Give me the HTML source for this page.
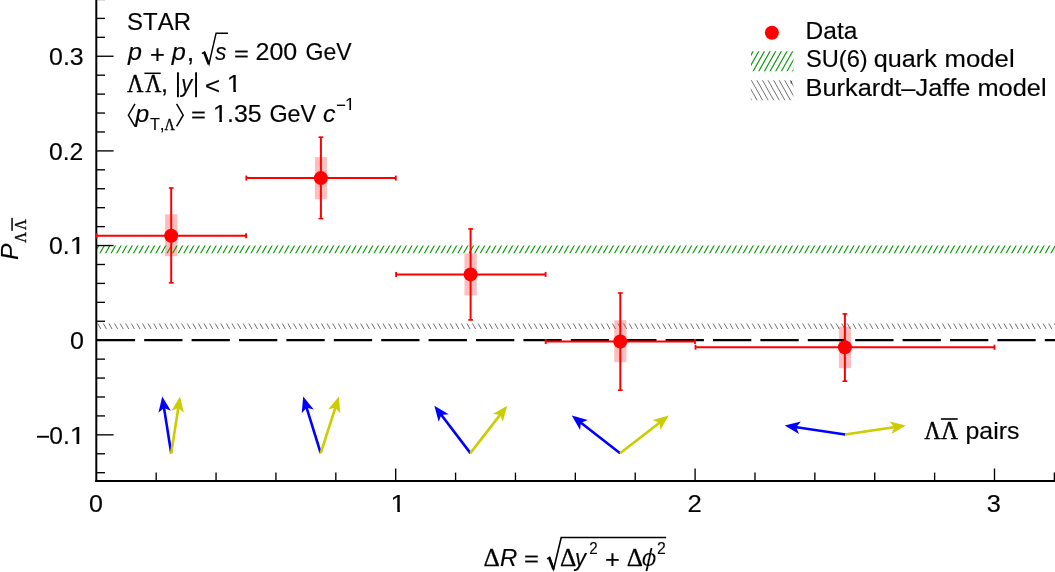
<!DOCTYPE html>
<html><head><meta charset="utf-8"><title>chart</title>
<style>
html,body{margin:0;padding:0;background:#fff;}
svg{display:block;}
text{fill:#000;font-kerning:none;}
</style></head><body>
<svg width="1055" height="572" viewBox="0 0 1055 572">
<rect width="1055" height="572" fill="#fff"/>
<defs><clipPath id="c1_24"><rect x="0" y="-24.00" width="24.00" height="21.457"/><rect x="5.918" y="-24.00" width="2.355" height="26.00"/></clipPath><clipPath id="c1_15_6"><rect x="0" y="-15.60" width="15.60" height="13.685"/><rect x="3.847" y="-15.60" width="1.531" height="17.60"/></clipPath></defs>
<rect x="165.10" y="214.30" width="12.20" height="41.90" fill="#ffbdbd"/>
<rect x="314.90" y="157.10" width="12.00" height="42.20" fill="#ffbdbd"/>
<rect x="464.50" y="253.40" width="12.20" height="42.00" fill="#ffbdbd"/>
<rect x="614.30" y="320.30" width="12.10" height="41.90" fill="#ffbdbd"/>
<rect x="838.90" y="326.60" width="12.10" height="41.60" fill="#ffbdbd"/>
<clipPath id="h1"><rect x="96.30" y="245.60" width="958.70" height="7.70"/></clipPath>
<path clip-path="url(#h1)" d="M82.55 254.30L88.04 244.60M88.15 254.30L93.63 244.60M93.74 254.30L99.23 244.60M99.33 254.30L104.82 244.60M104.93 254.30L110.42 244.60M110.52 254.30L116.01 244.60M116.12 254.30L121.60 244.60M121.71 254.30L127.20 244.60M127.30 254.30L132.79 244.60M132.90 254.30L138.39 244.60M138.49 254.30L143.98 244.60M144.09 254.30L149.57 244.60M149.68 254.30L155.17 244.60M155.27 254.30L160.76 244.60M160.87 254.30L166.36 244.60M166.46 254.30L171.95 244.60M172.06 254.30L177.54 244.60M177.65 254.30L183.14 244.60M183.24 254.30L188.73 244.60M188.84 254.30L194.33 244.60M194.43 254.30L199.92 244.60M200.03 254.30L205.51 244.60M205.62 254.30L211.11 244.60M211.21 254.30L216.70 244.60M216.81 254.30L222.30 244.60M222.40 254.30L227.89 244.60M228.00 254.30L233.48 244.60M233.59 254.30L239.08 244.60M239.18 254.30L244.67 244.60M244.78 254.30L250.27 244.60M250.37 254.30L255.86 244.60M255.97 254.30L261.45 244.60M261.56 254.30L267.05 244.60M267.15 254.30L272.64 244.60M272.75 254.30L278.24 244.60M278.34 254.30L283.83 244.60M283.94 254.30L289.42 244.60M289.53 254.30L295.02 244.60M295.12 254.30L300.61 244.60M300.72 254.30L306.21 244.60M306.31 254.30L311.80 244.60M311.91 254.30L317.39 244.60M317.50 254.30L322.99 244.60M323.09 254.30L328.58 244.60M328.69 254.30L334.18 244.60M334.28 254.30L339.77 244.60M339.88 254.30L345.36 244.60M345.47 254.30L350.96 244.60M351.06 254.30L356.55 244.60M356.66 254.30L362.15 244.60M362.25 254.30L367.74 244.60M367.85 254.30L373.33 244.60M373.44 254.30L378.93 244.60M379.03 254.30L384.52 244.60M384.63 254.30L390.12 244.60M390.22 254.30L395.71 244.60M395.82 254.30L401.30 244.60M401.41 254.30L406.90 244.60M407.00 254.30L412.49 244.60M412.60 254.30L418.09 244.60M418.19 254.30L423.68 244.60M423.79 254.30L429.27 244.60M429.38 254.30L434.87 244.60M434.97 254.30L440.46 244.60M440.57 254.30L446.06 244.60M446.16 254.30L451.65 244.60M451.76 254.30L457.24 244.60M457.35 254.30L462.84 244.60M462.94 254.30L468.43 244.60M468.54 254.30L474.03 244.60M474.13 254.30L479.62 244.60M479.73 254.30L485.21 244.60M485.32 254.30L490.81 244.60M490.91 254.30L496.40 244.60M496.51 254.30L502.00 244.60M502.10 254.30L507.59 244.60M507.70 254.30L513.18 244.60M513.29 254.30L518.78 244.60M518.88 254.30L524.37 244.60M524.48 254.30L529.97 244.60M530.07 254.30L535.56 244.60M535.67 254.30L541.15 244.60M541.26 254.30L546.75 244.60M546.85 254.30L552.34 244.60M552.45 254.30L557.94 244.60M558.04 254.30L563.53 244.60M563.64 254.30L569.12 244.60M569.23 254.30L574.72 244.60M574.82 254.30L580.31 244.60M580.42 254.30L585.91 244.60M586.01 254.30L591.50 244.60M591.61 254.30L597.09 244.60M597.20 254.30L602.69 244.60M602.79 254.30L608.28 244.60M608.39 254.30L613.88 244.60M613.98 254.30L619.47 244.60M619.58 254.30L625.06 244.60M625.17 254.30L630.66 244.60M630.76 254.30L636.25 244.60M636.36 254.30L641.85 244.60M641.95 254.30L647.44 244.60M647.55 254.30L653.03 244.60M653.14 254.30L658.63 244.60M658.73 254.30L664.22 244.60M664.33 254.30L669.82 244.60M669.92 254.30L675.41 244.60M675.52 254.30L681.00 244.60M681.11 254.30L686.60 244.60M686.70 254.30L692.19 244.60M692.30 254.30L697.79 244.60M697.89 254.30L703.38 244.60M703.49 254.30L708.97 244.60M709.08 254.30L714.57 244.60M714.67 254.30L720.16 244.60M720.27 254.30L725.76 244.60M725.86 254.30L731.35 244.60M731.46 254.30L736.94 244.60M737.05 254.30L742.54 244.60M742.64 254.30L748.13 244.60M748.24 254.30L753.73 244.60M753.83 254.30L759.32 244.60M759.43 254.30L764.91 244.60M765.02 254.30L770.51 244.60M770.61 254.30L776.10 244.60M776.21 254.30L781.70 244.60M781.80 254.30L787.29 244.60M787.40 254.30L792.88 244.60M792.99 254.30L798.48 244.60M798.58 254.30L804.07 244.60M804.18 254.30L809.67 244.60M809.77 254.30L815.26 244.60M815.37 254.30L820.85 244.60M820.96 254.30L826.45 244.60M826.55 254.30L832.04 244.60M832.15 254.30L837.64 244.60M837.74 254.30L843.23 244.60M843.34 254.30L848.82 244.60M848.93 254.30L854.42 244.60M854.52 254.30L860.01 244.60M860.12 254.30L865.61 244.60M865.71 254.30L871.20 244.60M871.31 254.30L876.79 244.60M876.90 254.30L882.39 244.60M882.49 254.30L887.98 244.60M888.09 254.30L893.58 244.60M893.68 254.30L899.17 244.60M899.28 254.30L904.76 244.60M904.87 254.30L910.36 244.60M910.46 254.30L915.95 244.60M916.06 254.30L921.55 244.60M921.65 254.30L927.14 244.60M927.25 254.30L932.73 244.60M932.84 254.30L938.33 244.60M938.43 254.30L943.92 244.60M944.03 254.30L949.52 244.60M949.62 254.30L955.11 244.60M955.22 254.30L960.70 244.60M960.81 254.30L966.30 244.60M966.40 254.30L971.89 244.60M972.00 254.30L977.49 244.60M977.59 254.30L983.08 244.60M983.19 254.30L988.67 244.60M988.78 254.30L994.27 244.60M994.37 254.30L999.86 244.60M999.97 254.30L1005.46 244.60M1005.56 254.30L1011.05 244.60M1011.16 254.30L1016.64 244.60M1016.75 254.30L1022.24 244.60M1022.34 254.30L1027.83 244.60M1027.94 254.30L1033.43 244.60M1033.53 254.30L1039.02 244.60M1039.13 254.30L1044.61 244.60M1044.72 254.30L1050.21 244.60M1050.31 254.30L1055.80 244.60M1055.91 254.30L1061.40 244.60M1061.50 254.30L1066.99 244.60" stroke="#0a9c0a" stroke-width="1.15" fill="none"/>
<clipPath id="h2"><rect x="96.30" y="323.60" width="958.70" height="5.50"/></clipPath>
<path clip-path="url(#h2)" d="M86.05 322.60L90.29 330.10M91.64 322.60L95.88 330.10M97.23 322.60L101.48 330.10M102.83 322.60L107.07 330.10M108.42 322.60L112.67 330.10M114.02 322.60L118.26 330.10M119.61 322.60L123.85 330.10M125.20 322.60L129.45 330.10M130.80 322.60L135.04 330.10M136.39 322.60L140.64 330.10M141.99 322.60L146.23 330.10M147.58 322.60L151.82 330.10M153.17 322.60L157.42 330.10M158.77 322.60L163.01 330.10M164.36 322.60L168.61 330.10M169.96 322.60L174.20 330.10M175.55 322.60L179.79 330.10M181.14 322.60L185.39 330.10M186.74 322.60L190.98 330.10M192.33 322.60L196.58 330.10M197.93 322.60L202.17 330.10M203.52 322.60L207.76 330.10M209.11 322.60L213.36 330.10M214.71 322.60L218.95 330.10M220.30 322.60L224.55 330.10M225.90 322.60L230.14 330.10M231.49 322.60L235.73 330.10M237.08 322.60L241.33 330.10M242.68 322.60L246.92 330.10M248.27 322.60L252.52 330.10M253.87 322.60L258.11 330.10M259.46 322.60L263.70 330.10M265.05 322.60L269.30 330.10M270.65 322.60L274.89 330.10M276.24 322.60L280.49 330.10M281.84 322.60L286.08 330.10M287.43 322.60L291.67 330.10M293.02 322.60L297.27 330.10M298.62 322.60L302.86 330.10M304.21 322.60L308.46 330.10M309.81 322.60L314.05 330.10M315.40 322.60L319.64 330.10M320.99 322.60L325.24 330.10M326.59 322.60L330.83 330.10M332.18 322.60L336.43 330.10M337.78 322.60L342.02 330.10M343.37 322.60L347.61 330.10M348.96 322.60L353.21 330.10M354.56 322.60L358.80 330.10M360.15 322.60L364.40 330.10M365.75 322.60L369.99 330.10M371.34 322.60L375.58 330.10M376.93 322.60L381.18 330.10M382.53 322.60L386.77 330.10M388.12 322.60L392.37 330.10M393.72 322.60L397.96 330.10M399.31 322.60L403.55 330.10M404.90 322.60L409.15 330.10M410.50 322.60L414.74 330.10M416.09 322.60L420.34 330.10M421.69 322.60L425.93 330.10M427.28 322.60L431.52 330.10M432.87 322.60L437.12 330.10M438.47 322.60L442.71 330.10M444.06 322.60L448.31 330.10M449.66 322.60L453.90 330.10M455.25 322.60L459.49 330.10M460.84 322.60L465.09 330.10M466.44 322.60L470.68 330.10M472.03 322.60L476.28 330.10M477.63 322.60L481.87 330.10M483.22 322.60L487.46 330.10M488.81 322.60L493.06 330.10M494.41 322.60L498.65 330.10M500.00 322.60L504.25 330.10M505.60 322.60L509.84 330.10M511.19 322.60L515.43 330.10M516.78 322.60L521.03 330.10M522.38 322.60L526.62 330.10M527.97 322.60L532.22 330.10M533.57 322.60L537.81 330.10M539.16 322.60L543.40 330.10M544.75 322.60L549.00 330.10M550.35 322.60L554.59 330.10M555.94 322.60L560.19 330.10M561.54 322.60L565.78 330.10M567.13 322.60L571.37 330.10M572.72 322.60L576.97 330.10M578.32 322.60L582.56 330.10M583.91 322.60L588.16 330.10M589.51 322.60L593.75 330.10M595.10 322.60L599.34 330.10M600.69 322.60L604.94 330.10M606.29 322.60L610.53 330.10M611.88 322.60L616.13 330.10M617.48 322.60L621.72 330.10M623.07 322.60L627.31 330.10M628.66 322.60L632.91 330.10M634.26 322.60L638.50 330.10M639.85 322.60L644.10 330.10M645.45 322.60L649.69 330.10M651.04 322.60L655.28 330.10M656.63 322.60L660.88 330.10M662.23 322.60L666.47 330.10M667.82 322.60L672.07 330.10M673.42 322.60L677.66 330.10M679.01 322.60L683.25 330.10M684.60 322.60L688.85 330.10M690.20 322.60L694.44 330.10M695.79 322.60L700.04 330.10M701.39 322.60L705.63 330.10M706.98 322.60L711.22 330.10M712.57 322.60L716.82 330.10M718.17 322.60L722.41 330.10M723.76 322.60L728.01 330.10M729.36 322.60L733.60 330.10M734.95 322.60L739.19 330.10M740.54 322.60L744.79 330.10M746.14 322.60L750.38 330.10M751.73 322.60L755.98 330.10M757.33 322.60L761.57 330.10M762.92 322.60L767.16 330.10M768.51 322.60L772.76 330.10M774.11 322.60L778.35 330.10M779.70 322.60L783.95 330.10M785.30 322.60L789.54 330.10M790.89 322.60L795.13 330.10M796.48 322.60L800.73 330.10M802.08 322.60L806.32 330.10M807.67 322.60L811.92 330.10M813.27 322.60L817.51 330.10M818.86 322.60L823.10 330.10M824.45 322.60L828.70 330.10M830.05 322.60L834.29 330.10M835.64 322.60L839.89 330.10M841.24 322.60L845.48 330.10M846.83 322.60L851.07 330.10M852.42 322.60L856.67 330.10M858.02 322.60L862.26 330.10M863.61 322.60L867.86 330.10M869.21 322.60L873.45 330.10M874.80 322.60L879.04 330.10M880.39 322.60L884.64 330.10M885.99 322.60L890.23 330.10M891.58 322.60L895.83 330.10M897.18 322.60L901.42 330.10M902.77 322.60L907.01 330.10M908.36 322.60L912.61 330.10M913.96 322.60L918.20 330.10M919.55 322.60L923.80 330.10M925.15 322.60L929.39 330.10M930.74 322.60L934.98 330.10M936.33 322.60L940.58 330.10M941.93 322.60L946.17 330.10M947.52 322.60L951.77 330.10M953.12 322.60L957.36 330.10M958.71 322.60L962.95 330.10M964.30 322.60L968.55 330.10M969.90 322.60L974.14 330.10M975.49 322.60L979.74 330.10M981.09 322.60L985.33 330.10M986.68 322.60L990.92 330.10M992.27 322.60L996.52 330.10M997.87 322.60L1002.11 330.10M1003.46 322.60L1007.71 330.10M1009.06 322.60L1013.30 330.10M1014.65 322.60L1018.89 330.10M1020.24 322.60L1024.49 330.10M1025.84 322.60L1030.08 330.10M1031.43 322.60L1035.68 330.10M1037.03 322.60L1041.27 330.10M1042.62 322.60L1046.86 330.10M1048.21 322.60L1052.46 330.10M1053.81 322.60L1058.05 330.10M1059.40 322.60L1063.65 330.10" stroke="#6a6a6a" stroke-width="0.95" fill="none"/>
<clipPath id="h3"><rect x="751.00" y="51.20" width="42.40" height="20.10"/></clipPath>
<path clip-path="url(#h3)" d="M729.91 72.30L742.42 50.20M735.56 72.30L748.07 50.20M741.21 72.30L753.72 50.20M746.86 72.30L759.37 50.20M752.51 72.30L765.02 50.20M758.16 72.30L770.67 50.20M763.81 72.30L776.32 50.20M769.46 72.30L781.97 50.20M775.11 72.30L787.62 50.20M780.76 72.30L793.27 50.20M786.41 72.30L798.92 50.20M792.06 72.30L804.57 50.20M797.71 72.30L810.22 50.20M803.36 72.30L815.87 50.20M809.01 72.30L821.52 50.20" stroke="#0a9c0a" stroke-width="1.15" fill="none"/>
<clipPath id="h4"><rect x="750.80" y="80.20" width="42.60" height="20.10"/></clipPath>
<path clip-path="url(#h4)" d="M728.49 79.20L741.00 101.30M734.05 79.20L746.56 101.30M739.61 79.20L752.12 101.30M745.17 79.20L757.68 101.30M750.73 79.20L763.24 101.30M756.29 79.20L768.80 101.30M761.85 79.20L774.36 101.30M767.41 79.20L779.92 101.30M772.97 79.20L785.48 101.30M778.53 79.20L791.04 101.30M784.09 79.20L796.60 101.30M789.65 79.20L802.16 101.30M795.21 79.20L807.72 101.30M800.77 79.20L813.28 101.30M806.33 79.20L818.84 101.30" stroke="#6a6a6a" stroke-width="0.95" fill="none"/>
<rect x="790.60" y="80.90" width="1.30" height="2.60" fill="#555"/>
<line x1="96.8" y1="340.1" x2="1060" y2="340.1" stroke="#000" stroke-width="2.1" stroke-dasharray="38.3 9.1"/>
<rect x="95.30" y="0.00" width="2.00" height="482.00" fill="#000"/>
<rect x="95.30" y="480.00" width="959.70" height="2.00" fill="#000"/>
<line x1="97.00" y1="472.71" x2="105.00" y2="472.71" stroke="#000" stroke-width="1.35" />
<line x1="97.00" y1="453.78" x2="105.00" y2="453.78" stroke="#000" stroke-width="1.35" />
<line x1="97.00" y1="434.85" x2="113.60" y2="434.85" stroke="#000" stroke-width="1.35" />
<line x1="97.00" y1="415.92" x2="105.00" y2="415.92" stroke="#000" stroke-width="1.35" />
<line x1="97.00" y1="396.99" x2="105.00" y2="396.99" stroke="#000" stroke-width="1.35" />
<line x1="97.00" y1="378.06" x2="105.00" y2="378.06" stroke="#000" stroke-width="1.35" />
<line x1="97.00" y1="359.13" x2="105.00" y2="359.13" stroke="#000" stroke-width="1.35" />
<line x1="97.00" y1="340.20" x2="113.60" y2="340.20" stroke="#000" stroke-width="1.35" />
<line x1="97.00" y1="321.27" x2="105.00" y2="321.27" stroke="#000" stroke-width="1.35" />
<line x1="97.00" y1="302.34" x2="105.00" y2="302.34" stroke="#000" stroke-width="1.35" />
<line x1="97.00" y1="283.41" x2="105.00" y2="283.41" stroke="#000" stroke-width="1.35" />
<line x1="97.00" y1="264.48" x2="105.00" y2="264.48" stroke="#000" stroke-width="1.35" />
<line x1="97.00" y1="245.55" x2="113.60" y2="245.55" stroke="#000" stroke-width="1.35" />
<line x1="97.00" y1="226.62" x2="105.00" y2="226.62" stroke="#000" stroke-width="1.35" />
<line x1="97.00" y1="207.69" x2="105.00" y2="207.69" stroke="#000" stroke-width="1.35" />
<line x1="97.00" y1="188.76" x2="105.00" y2="188.76" stroke="#000" stroke-width="1.35" />
<line x1="97.00" y1="169.83" x2="105.00" y2="169.83" stroke="#000" stroke-width="1.35" />
<line x1="97.00" y1="150.90" x2="113.60" y2="150.90" stroke="#000" stroke-width="1.35" />
<line x1="97.00" y1="131.97" x2="105.00" y2="131.97" stroke="#000" stroke-width="1.35" />
<line x1="97.00" y1="113.04" x2="105.00" y2="113.04" stroke="#000" stroke-width="1.35" />
<line x1="97.00" y1="94.11" x2="105.00" y2="94.11" stroke="#000" stroke-width="1.35" />
<line x1="97.00" y1="75.18" x2="105.00" y2="75.18" stroke="#000" stroke-width="1.35" />
<line x1="97.00" y1="56.25" x2="113.60" y2="56.25" stroke="#000" stroke-width="1.35" />
<line x1="97.00" y1="37.32" x2="105.00" y2="37.32" stroke="#000" stroke-width="1.35" />
<line x1="97.00" y1="18.39" x2="105.00" y2="18.39" stroke="#000" stroke-width="1.35" />
<line x1="97.00" y1="-0.54" x2="105.00" y2="-0.54" stroke="#000" stroke-width="1.35" />
<line x1="156.18" y1="480.50" x2="156.18" y2="472.60" stroke="#000" stroke-width="1.35" />
<line x1="216.06" y1="480.50" x2="216.06" y2="472.60" stroke="#000" stroke-width="1.35" />
<line x1="275.94" y1="480.50" x2="275.94" y2="472.60" stroke="#000" stroke-width="1.35" />
<line x1="335.82" y1="480.50" x2="335.82" y2="472.60" stroke="#000" stroke-width="1.35" />
<line x1="395.70" y1="480.50" x2="395.70" y2="468.50" stroke="#000" stroke-width="1.35" />
<line x1="455.58" y1="480.50" x2="455.58" y2="472.60" stroke="#000" stroke-width="1.35" />
<line x1="515.46" y1="480.50" x2="515.46" y2="472.60" stroke="#000" stroke-width="1.35" />
<line x1="575.34" y1="480.50" x2="575.34" y2="472.60" stroke="#000" stroke-width="1.35" />
<line x1="635.22" y1="480.50" x2="635.22" y2="472.60" stroke="#000" stroke-width="1.35" />
<line x1="695.10" y1="480.50" x2="695.10" y2="468.50" stroke="#000" stroke-width="1.35" />
<line x1="754.98" y1="480.50" x2="754.98" y2="472.60" stroke="#000" stroke-width="1.35" />
<line x1="814.86" y1="480.50" x2="814.86" y2="472.60" stroke="#000" stroke-width="1.35" />
<line x1="874.74" y1="480.50" x2="874.74" y2="472.60" stroke="#000" stroke-width="1.35" />
<line x1="934.62" y1="480.50" x2="934.62" y2="472.60" stroke="#000" stroke-width="1.35" />
<line x1="994.50" y1="480.50" x2="994.50" y2="468.50" stroke="#000" stroke-width="1.35" />
<line x1="1054.38" y1="480.50" x2="1054.38" y2="472.60" stroke="#000" stroke-width="1.35" />
<line x1="96.30" y1="235.70" x2="246.40" y2="235.70" stroke="#ff0000" stroke-width="2.0" />
<line x1="171.20" y1="187.60" x2="171.20" y2="283.20" stroke="#ff0000" stroke-width="2.0" />
<line x1="96.60" y1="233.20" x2="96.60" y2="238.20" stroke="#ff0000" stroke-width="1.8" />
<line x1="246.10" y1="233.20" x2="246.10" y2="238.20" stroke="#ff0000" stroke-width="1.8" />
<line x1="168.80" y1="188.00" x2="173.60" y2="188.00" stroke="#ff0000" stroke-width="1.6" />
<line x1="168.80" y1="282.80" x2="173.60" y2="282.80" stroke="#ff0000" stroke-width="1.6" />
<circle cx="171.20" cy="235.70" r="7.0" fill="#ff0000"/>
<line x1="246.00" y1="178.10" x2="396.10" y2="178.10" stroke="#ff0000" stroke-width="2.0" />
<line x1="320.90" y1="136.80" x2="320.90" y2="219.00" stroke="#ff0000" stroke-width="2.0" />
<line x1="246.30" y1="175.60" x2="246.30" y2="180.60" stroke="#ff0000" stroke-width="1.8" />
<line x1="395.80" y1="175.60" x2="395.80" y2="180.60" stroke="#ff0000" stroke-width="1.8" />
<line x1="318.50" y1="137.20" x2="323.30" y2="137.20" stroke="#ff0000" stroke-width="1.6" />
<line x1="318.50" y1="218.60" x2="323.30" y2="218.60" stroke="#ff0000" stroke-width="1.6" />
<circle cx="320.90" cy="178.10" r="7.0" fill="#ff0000"/>
<line x1="395.80" y1="274.40" x2="545.90" y2="274.40" stroke="#ff0000" stroke-width="2.0" />
<line x1="470.60" y1="228.50" x2="470.60" y2="320.30" stroke="#ff0000" stroke-width="2.0" />
<line x1="396.10" y1="271.90" x2="396.10" y2="276.90" stroke="#ff0000" stroke-width="1.8" />
<line x1="545.60" y1="271.90" x2="545.60" y2="276.90" stroke="#ff0000" stroke-width="1.8" />
<line x1="468.20" y1="228.90" x2="473.00" y2="228.90" stroke="#ff0000" stroke-width="1.6" />
<line x1="468.20" y1="319.90" x2="473.00" y2="319.90" stroke="#ff0000" stroke-width="1.6" />
<circle cx="470.60" cy="274.40" r="7.0" fill="#ff0000"/>
<line x1="545.40" y1="341.50" x2="695.30" y2="341.50" stroke="#ff0000" stroke-width="2.0" />
<line x1="620.30" y1="292.60" x2="620.30" y2="390.60" stroke="#ff0000" stroke-width="2.0" />
<line x1="545.70" y1="339.00" x2="545.70" y2="344.00" stroke="#ff0000" stroke-width="1.8" />
<line x1="695.00" y1="339.00" x2="695.00" y2="344.00" stroke="#ff0000" stroke-width="1.8" />
<line x1="617.90" y1="293.00" x2="622.70" y2="293.00" stroke="#ff0000" stroke-width="1.6" />
<line x1="617.90" y1="390.20" x2="622.70" y2="390.20" stroke="#ff0000" stroke-width="1.6" />
<circle cx="620.30" cy="341.50" r="7.0" fill="#ff0000"/>
<line x1="695.20" y1="347.20" x2="994.80" y2="347.20" stroke="#ff0000" stroke-width="2.0" />
<line x1="844.90" y1="313.50" x2="844.90" y2="381.60" stroke="#ff0000" stroke-width="2.0" />
<line x1="695.50" y1="344.70" x2="695.50" y2="349.70" stroke="#ff0000" stroke-width="1.8" />
<line x1="994.50" y1="344.70" x2="994.50" y2="349.70" stroke="#ff0000" stroke-width="1.8" />
<line x1="842.50" y1="313.90" x2="847.30" y2="313.90" stroke="#ff0000" stroke-width="1.6" />
<line x1="842.50" y1="381.20" x2="847.30" y2="381.20" stroke="#ff0000" stroke-width="1.6" />
<circle cx="844.90" cy="347.20" r="7.0" fill="#ff0000"/>
<circle cx="771.9" cy="32.7" r="7.0" fill="#ff0000"/>
<line x1="171.20" y1="453.20" x2="163.86" y2="406.88" stroke="#0000ff" stroke-width="2.6"/><polygon points="162.24,396.60 170.87,410.83 164.05,408.06 158.42,412.80" fill="#0000ff"/>
<line x1="171.20" y1="453.20" x2="178.45" y2="406.88" stroke="#cccc00" stroke-width="2.6"/><polygon points="180.06,396.60 183.90,412.79 178.27,408.07 171.46,410.84" fill="#cccc00"/>
<line x1="320.70" y1="453.20" x2="306.26" y2="406.55" stroke="#0000ff" stroke-width="2.6"/><polygon points="303.18,396.62 313.75,409.47 306.61,407.70 301.72,413.19" fill="#0000ff"/>
<line x1="320.70" y1="453.20" x2="335.73" y2="406.52" stroke="#cccc00" stroke-width="2.6"/><polygon points="338.92,396.62 340.20,413.21 335.37,407.66 328.20,409.35" fill="#cccc00"/>
<line x1="470.40" y1="453.10" x2="440.65" y2="413.96" stroke="#0000ff" stroke-width="2.6"/><polygon points="434.36,405.68 448.69,414.13 441.38,414.92 438.66,421.75" fill="#0000ff"/>
<line x1="470.40" y1="453.10" x2="500.86" y2="413.90" stroke="#cccc00" stroke-width="2.6"/><polygon points="507.25,405.68 502.77,421.71 500.13,414.84 492.82,413.98" fill="#cccc00"/>
<line x1="620.10" y1="453.20" x2="579.99" y2="421.95" stroke="#0000ff" stroke-width="2.6"/><polygon points="571.78,415.55 587.80,420.05 580.93,422.68 580.06,429.99" fill="#0000ff"/>
<line x1="620.10" y1="453.20" x2="660.49" y2="421.92" stroke="#cccc00" stroke-width="2.6"/><polygon points="668.72,415.56 660.40,429.96 659.54,422.66 652.68,420.00" fill="#cccc00"/>
<line x1="845.10" y1="434.50" x2="794.99" y2="426.98" stroke="#0000ff" stroke-width="2.6"/><polygon points="784.70,425.44 800.87,421.49 796.18,427.16 799.00,433.96" fill="#0000ff"/>
<line x1="845.10" y1="434.50" x2="895.51" y2="426.98" stroke="#cccc00" stroke-width="2.6"/><polygon points="905.80,425.44 891.49,433.95 894.32,427.15 889.63,421.48" fill="#cccc00"/>
<rect x="37.00" y="435.80" width="12.00" height="1.90" fill="#000"/>
<path d="M202.0 53.5L204.5 52.1L209.0 64.0L216.1 33.2L228.0 33.2" fill="none" stroke="#000" stroke-width="1.45" stroke-linejoin="miter"/>
<path d="M204.2 52.3L208.8 64.3" fill="none" stroke="#000" stroke-width="2.5"/>
<rect x="144.40" y="72.55" width="16.30" height="1.50" fill="#000"/>
<rect x="940.90" y="418.20" width="16.80" height="1.60" fill="#000"/>
<rect x="177.00" y="72.30" width="1.90" height="24.90" fill="#000"/>
<rect x="195.10" y="72.30" width="1.90" height="24.90" fill="#000"/>
<path d="M135.0 103.9L128.4 115.15L135.0 126.4" fill="none" stroke="#000" stroke-width="1.5"/>
<path d="M176.6 103.9L183.2 115.15L176.6 126.4" fill="none" stroke="#000" stroke-width="1.5"/>
<rect x="336.90" y="104.60" width="8.30" height="1.40" fill="#000"/>
<path d="M547.0 558.9L549.6 557.5L553.7 569.0L561.2 537.5L666.1 537.5" fill="none" stroke="#000" stroke-width="1.6" stroke-linejoin="miter"/>
<path d="M549.2 557.7L553.5 569.4" fill="none" stroke="#000" stroke-width="2.6"/>
<rect x="11.30" y="217.90" width="1.50" height="12.90" fill="#000"/>
<g style="opacity:0.999">
<text transform="translate(49.03,64.75) scale(1.0392,1.0000)" style="font-family:'Liberation Sans', sans-serif;font-size:24px;stroke:#000;stroke-width:0.16px;">0.3</text>
<text transform="translate(49.04,159.50) scale(1.0282,1.0000)" style="font-family:'Liberation Sans', sans-serif;font-size:24px;stroke:#000;stroke-width:0.16px;">0.2</text>
<text transform="translate(49.03,254.20) scale(1.0363,1.0000)" style="font-family:'Liberation Sans', sans-serif;font-size:24px;stroke:#000;stroke-width:0.16px;">0.</text>
<text transform="translate(69.75,254.20) scale(1.1458,1.0000)" style="font-family:'Liberation Sans', sans-serif;font-size:24px;stroke:#000;stroke-width:0.16px;" clip-path="url(#c1_24)">1</text>
<text transform="translate(70.02,349.00) scale(1.0460,1.0000)" style="font-family:'Liberation Sans', sans-serif;font-size:24px;stroke:#000;stroke-width:0.16px;">0</text>
<text transform="translate(49.24,444.00) scale(1.0245,1.0000)" style="font-family:'Liberation Sans', sans-serif;font-size:24px;stroke:#000;stroke-width:0.16px;">0.</text>
<text transform="translate(69.75,444.00) scale(1.1458,1.0000)" style="font-family:'Liberation Sans', sans-serif;font-size:24px;stroke:#000;stroke-width:0.16px;" clip-path="url(#c1_24)">1</text>
<text transform="translate(88.97,511.80) scale(1.0416,1.0000)" style="font-family:'Liberation Sans', sans-serif;font-size:24px;stroke:#000;stroke-width:0.16px;">0</text>
<text transform="translate(390.59,511.80) scale(1.1287,1.0000)" style="font-family:'Liberation Sans', sans-serif;font-size:24px;stroke:#000;stroke-width:0.16px;" clip-path="url(#c1_24)">1</text>
<text transform="translate(687.41,511.80) scale(1.0701,1.0000)" style="font-family:'Liberation Sans', sans-serif;font-size:24px;stroke:#000;stroke-width:0.16px;">2</text>
<text transform="translate(986.64,511.80) scale(1.0546,1.0000)" style="font-family:'Liberation Sans', sans-serif;font-size:24px;stroke:#000;stroke-width:0.16px;">3</text>
<text transform="translate(127.11,29.60) scale(0.9983,1.0000)" style="font-family:'Liberation Sans', sans-serif;font-size:24px;stroke:#000;stroke-width:0.16px;">STAR</text>
<text transform="translate(127.97,60.45) scale(1.0439,1.0000)" style="font-family:'Liberation Sans', sans-serif;font-size:24px;font-style:italic;stroke:#000;stroke-width:0.16px;">p</text>
<text transform="translate(149.95,62.79) scale(1.0635,1.0390)" style="font-family:'Liberation Sans', sans-serif;font-size:24px;stroke:#000;stroke-width:0.16px;">+</text>
<text transform="translate(171.83,60.45) scale(1.0553,1.0000)" style="font-family:'Liberation Sans', sans-serif;font-size:24px;font-style:italic;stroke:#000;stroke-width:0.16px;">p</text>
<text transform="translate(186.77,60.97) scale(1.1200,1.1177)" style="font-family:'Liberation Sans', sans-serif;font-size:24px;stroke:#000;stroke-width:0.16px;">,</text>
<text transform="translate(215.15,60.45) scale(0.9258,1.0000)" style="font-family:'Liberation Sans', sans-serif;font-size:24px;font-style:italic;stroke:#000;stroke-width:0.16px;">s</text>
<text transform="translate(233.95,60.78) scale(1.0635,0.8145)" style="font-family:'Liberation Sans', sans-serif;font-size:24px;stroke:#000;stroke-width:0.16px;">=</text>
<text transform="translate(255.54,60.45) scale(1.0423,1.0000)" style="font-family:'Liberation Sans', sans-serif;font-size:24px;stroke:#000;stroke-width:0.16px;">200</text>
<text transform="translate(305.54,60.45) scale(0.9612,1.0000)" style="font-family:'Liberation Sans', sans-serif;font-size:24px;stroke:#000;stroke-width:0.16px;">GeV</text>
<text transform="translate(127.18,91.60) scale(0.9278,1.0225)" style="font-family:'Liberation Serif', serif;font-size:24px;stroke:#000;stroke-width:0.55px;">&#923;</text>
<text transform="translate(145.39,91.60) scale(0.9101,1.0225)" style="font-family:'Liberation Serif', serif;font-size:24px;stroke:#000;stroke-width:0.55px;">&#923;</text>
<text transform="translate(160.67,91.62) scale(1.1200,1.0999)" style="font-family:'Liberation Sans', sans-serif;font-size:24px;stroke:#000;stroke-width:0.16px;">,</text>
<text transform="translate(181.24,91.80) scale(0.9131,1.0000)" style="font-family:'Liberation Sans', sans-serif;font-size:24px;font-style:italic;stroke:#000;stroke-width:0.16px;">y</text>
<text transform="translate(205.02,93.64) scale(1.0806,1.0174)" style="font-family:'Liberation Sans', sans-serif;font-size:24px;stroke:#000;stroke-width:0.16px;">&lt;</text>
<text transform="translate(226.87,91.80) scale(1.0945,1.0000)" style="font-family:'Liberation Sans', sans-serif;font-size:24px;stroke:#000;stroke-width:0.16px;" clip-path="url(#c1_24)">1</text>
<text transform="translate(135.13,121.60) scale(1.0477,1.0000)" style="font-family:'Liberation Sans', sans-serif;font-size:24px;font-style:italic;stroke:#000;stroke-width:0.16px;">p</text>
<text transform="translate(149.93,129.80) scale(1.0430,1.0000)" style="font-family:'Liberation Sans', sans-serif;font-size:15.6px;stroke:#000;stroke-width:0.11199999999999999px;">T</text>
<text transform="translate(159.74,129.77) scale(1.1103,1.1190)" style="font-family:'Liberation Sans', sans-serif;font-size:15.6px;stroke:#000;stroke-width:0.11199999999999999px;">,</text>
<text transform="translate(164.56,129.60) scale(0.9092,1.0244)" style="font-family:'Liberation Serif', serif;font-size:15.6px;stroke:#000;stroke-width:0.385px;">&#923;</text>
<text transform="translate(191.05,121.98) scale(1.0635,0.8145)" style="font-family:'Liberation Sans', sans-serif;font-size:24px;stroke:#000;stroke-width:0.16px;">=</text>
<text transform="translate(212.73,121.60) scale(1.1116,1.0000)" style="font-family:'Liberation Sans', sans-serif;font-size:24px;stroke:#000;stroke-width:0.16px;" clip-path="url(#c1_24)">1</text>
<text transform="translate(227.02,121.60) scale(1.0410,1.0000)" style="font-family:'Liberation Sans', sans-serif;font-size:24px;stroke:#000;stroke-width:0.16px;">.35</text>
<text transform="translate(269.42,121.60) scale(0.9741,1.0000)" style="font-family:'Liberation Sans', sans-serif;font-size:24px;stroke:#000;stroke-width:0.16px;">GeV</text>
<text transform="translate(322.88,121.60) scale(1.0415,1.0000)" style="font-family:'Liberation Sans', sans-serif;font-size:24px;font-style:italic;stroke:#000;stroke-width:0.16px;">c</text>
<text transform="translate(344.90,109.70) scale(1.1313,1.0000)" style="font-family:'Liberation Sans', sans-serif;font-size:15.6px;stroke:#000;stroke-width:0.11199999999999999px;" clip-path="url(#c1_15_6)">1</text>
<text transform="translate(805.59,38.50) scale(1.0220,1.0000)" style="font-family:'Liberation Sans', sans-serif;font-size:24px;stroke:#000;stroke-width:0.16px;">Data</text>
<text transform="translate(805.93,67.20) scale(0.9851,1.0000)" style="font-family:'Liberation Sans', sans-serif;font-size:24px;stroke:#000;stroke-width:0.16px;">SU(6)</text>
<text transform="translate(873.84,67.20) scale(1.0497,1.0000)" style="font-family:'Liberation Sans', sans-serif;font-size:24px;stroke:#000;stroke-width:0.16px;">quark</text>
<text transform="translate(944.59,67.20) scale(1.0713,1.0000)" style="font-family:'Liberation Sans', sans-serif;font-size:24px;stroke:#000;stroke-width:0.16px;">model</text>
<text transform="translate(805.52,96.30) scale(1.0568,1.0000)" style="font-family:'Liberation Sans', sans-serif;font-size:24px;stroke:#000;stroke-width:0.16px;">Burkardt&#8211;Jaffe model</text>
<text transform="translate(924.38,438.50) scale(0.9278,1.0162)" style="font-family:'Liberation Serif', serif;font-size:24px;stroke:#000;stroke-width:0.55px;">&#923;</text>
<text transform="translate(941.28,438.50) scale(0.9573,1.0162)" style="font-family:'Liberation Serif', serif;font-size:24px;stroke:#000;stroke-width:0.55px;">&#923;</text>
<text transform="translate(965.50,438.70) scale(1.0362,1.0000)" style="font-family:'Liberation Sans', sans-serif;font-size:24px;stroke:#000;stroke-width:0.16px;">pairs</text>
<text transform="translate(483.43,565.50) scale(1.0575,1.0225)" style="font-family:'Liberation Serif', serif;font-size:24px;stroke:#000;stroke-width:0.25px;">&#916;</text>
<text transform="translate(499.96,565.80) scale(0.9965,1.0000)" style="font-family:'Liberation Sans', sans-serif;font-size:24px;font-style:italic;stroke:#000;stroke-width:0.16px;">R</text>
<text transform="translate(524.05,566.13) scale(1.0635,0.8145)" style="font-family:'Liberation Sans', sans-serif;font-size:24px;stroke:#000;stroke-width:0.16px;">=</text>
<text transform="translate(560.03,565.50) scale(1.0575,1.0225)" style="font-family:'Liberation Serif', serif;font-size:24px;stroke:#000;stroke-width:0.25px;">&#916;</text>
<text transform="translate(574.95,565.80) scale(0.9199,1.0000)" style="font-family:'Liberation Sans', sans-serif;font-size:24px;font-style:italic;stroke:#000;stroke-width:0.16px;">y</text>
<text transform="translate(589.24,553.50) scale(0.9709,1.0000)" style="font-family:'Liberation Sans', sans-serif;font-size:15.6px;stroke:#000;stroke-width:0.11199999999999999px;">2</text>
<text transform="translate(604.95,567.99) scale(1.0635,1.0390)" style="font-family:'Liberation Sans', sans-serif;font-size:24px;stroke:#000;stroke-width:0.16px;">+</text>
<text transform="translate(626.64,565.50) scale(1.0501,1.0225)" style="font-family:'Liberation Serif', serif;font-size:24px;stroke:#000;stroke-width:0.25px;">&#916;</text>
<text transform="translate(641.62,565.80) scale(1.1355,1.0000)" style="font-family:'Liberation Sans', sans-serif;font-size:24px;font-style:italic;stroke:#fff;stroke-width:0.22px;">&#981;</text>
<text transform="translate(657.11,553.50) scale(1.0131,1.0000)" style="font-family:'Liberation Sans', sans-serif;font-size:15.6px;stroke:#000;stroke-width:0.11199999999999999px;">2</text>
<text transform="translate(17.60,260.06) rotate(-90) scale(1.0319,1)" style="font-family:'Liberation Sans', sans-serif;font-size:24px;font-style:italic;stroke:#000;stroke-width:0.16px;">P</text>
<text transform="translate(25.90,242.64) rotate(-90) scale(0.9105,1)" style="font-family:'Liberation Serif', serif;font-size:16.2px;stroke:#000;stroke-width:0.385px;">&#923;</text>
<text transform="translate(25.90,230.04) rotate(-90) scale(0.9105,1)" style="font-family:'Liberation Serif', serif;font-size:16.2px;stroke:#000;stroke-width:0.385px;">&#923;</text>
</g>
</svg>
</body></html>
